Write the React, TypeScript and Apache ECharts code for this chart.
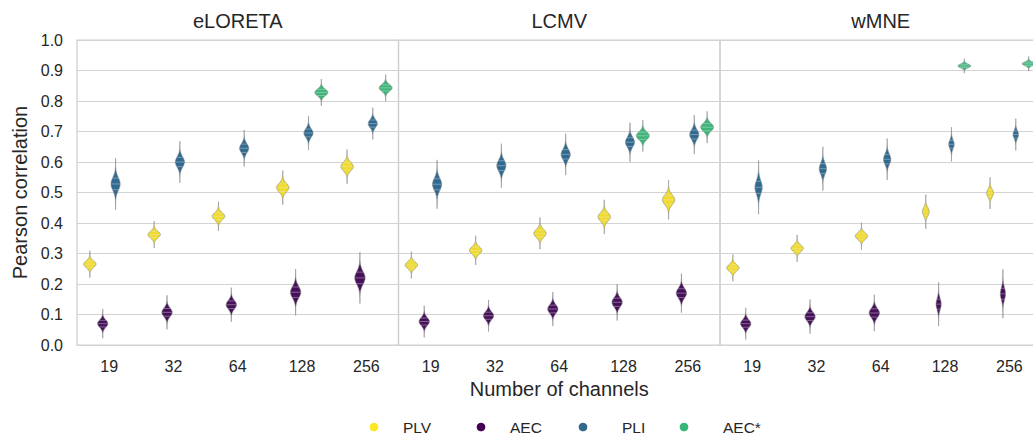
import React, { useEffect, useRef } from 'react';
import * as echarts from 'echarts';

const categories = ['19', '32', '64', '128', '256'];
const panels = ['eLORETA', 'LCMV', 'wMNE'];
const methods = ['PLV', 'AEC', 'PLI', 'AEC*'];

// Each violin: [category index, centre, spread (sd), relative density width]
const eloretaPLV = [[0, 0.265, 0.011, 1], [1, 0.362, 0.011, 1], [2, 0.422, 0.012, 1], [3, 0.516, 0.014, 1], [4, 0.585, 0.014, 1]];
const eloretaAEC = [[0, 0.07, 0.012, 1], [1, 0.107, 0.014, 1], [2, 0.132, 0.014, 1], [3, 0.173, 0.019, 1], [4, 0.22, 0.021, 1]];
const eloretaPLI = [[0, 0.528, 0.021, 1], [1, 0.6, 0.017, 1], [2, 0.645, 0.015, 1], [3, 0.695, 0.014, 1], [4, 0.726, 0.013, 1]];
const eloretaAECstar = [[3, 0.828, 0.011, 1], [4, 0.843, 0.011, 1]];

const lcmvPLV = [[0, 0.262, 0.011, 1], [1, 0.31, 0.012, 1], [2, 0.366, 0.013, 1], [3, 0.42, 0.014, 1], [4, 0.476, 0.016, 1]];
const lcmvAEC = [[0, 0.077, 0.013, 1], [1, 0.096, 0.013, 1], [2, 0.118, 0.014, 1], [3, 0.14, 0.015, 1], [4, 0.17, 0.016, 1]];
const lcmvPLI = [[0, 0.527, 0.02, 1], [1, 0.588, 0.018, 1], [2, 0.625, 0.017, 1], [3, 0.665, 0.016, 1], [4, 0.69, 0.016, 1]];
const lcmvAECstar = [[3, 0.686, 0.013, 1], [4, 0.714, 0.013, 1]];

const wmnePLV = [[0, 0.253, 0.011, 1], [1, 0.317, 0.011, 1], [2, 0.357, 0.011, 1], [3, 0.437, 0.014, 0.55], [4, 0.498, 0.013, 0.55]];
const wmneAEC = [[0, 0.07, 0.013, 1], [1, 0.093, 0.014, 1], [2, 0.105, 0.015, 1], [3, 0.134, 0.018, 0.5], [4, 0.168, 0.02, 0.5]];
const wmnePLI = [[0, 0.517, 0.022, 0.8], [1, 0.578, 0.018, 0.8], [2, 0.609, 0.017, 0.8], [3, 0.658, 0.014, 0.6], [4, 0.69, 0.013, 0.6]];
const wmneAECstar = [[3, 0.915, 0.006, 1], [4, 0.922, 0.006, 1]];

const panelData = [
  [eloretaPLV, eloretaAEC, eloretaPLI, eloretaAECstar],
  [lcmvPLV, lcmvAEC, lcmvPLI, lcmvAECstar],
  [wmnePLV, wmneAEC, wmnePLI, wmneAECstar],
];

const violinColors = ['#f0db2f', '#46115a', '#306a91', '#3db679'];
const legendColors = ['#fde725', '#440154', '#31688e', '#35b779'];
const baseHalf = [6.2, 5.2, 4.6, 6.5];

const FONT = '"Liberation Sans", Arial, sans-serif';
const TXT = '#262626';

const GRID_LEFT = 77;
const GRID_W = 321.5;
const GRID_TOP = 40;
const GRID_H = 305;

function makeRender(mi: number) {
  return (params: any, api: any) => {
    const cat = api.value(0);
    const c = api.value(1);
    const sd = api.value(2);
    const rel = api.value(3);
    const band = api.size([1, 0])[0];
    const cx = api.coord([cat, c])[0] + (mi - 1.5) * 0.2 * band;
    const hw = baseHalf[mi] * rel;
    const left: number[][] = [];
    const right: number[][] = [];
    for (let i = 0; i <= 80; i++) {
      const t = -4 + i * 0.1;
      const y = api.coord([cat, c + t * sd])[1];
      const w = hw * Math.exp((-t * t) / 2);
      left.push([cx - w, y]);
      right.push([cx + w, y]);
    }
    const pts = left.concat(right.reverse());
    const children: any[] = [
      {
        type: 'polygon',
        shape: { points: pts },
        style: { fill: violinColors[mi], stroke: 'rgba(135,135,135,0.75)', lineWidth: 0.8 },
      },
    ];
    [-0.9, 0, 0.9].forEach((k) => {
      const y = api.coord([cat, c + k * sd])[1];
      const w = hw * Math.exp((-k * k) / 2) * 0.9;
      children.push({
        type: 'line',
        shape: { x1: cx - w, y1: y, x2: cx + w, y2: y },
        style: { stroke: 'rgba(235,235,235,0.55)', lineWidth: 0.7 },
      });
    });
    return { type: 'group', children };
  };
}

export default function App() {
  const ref = useRef<HTMLDivElement>(null);
  useEffect(() => {
    if (!ref.current) return;
    const chart = echarts.init(ref.current, undefined, { renderer: 'svg' });
    const grid: any[] = [];
    const xAxis: any[] = [];
    const yAxis: any[] = [];
    const series: any[] = [];
    panels.forEach((p, i) => {
      grid.push({
        left: GRID_LEFT + i * GRID_W,
        top: GRID_TOP,
        width: GRID_W,
        height: GRID_H,
        show: true,
        borderColor: '#cdcdcd',
        borderWidth: 1.2,
      });
      xAxis.push({
        type: 'category',
        gridIndex: i,
        data: categories,
        axisLine: { show: false },
        axisTick: { show: false },
        splitLine: { show: false },
        axisLabel: { fontSize: 16, color: TXT, margin: 13, fontFamily: FONT },
      });
      yAxis.push({
        type: 'value',
        gridIndex: i,
        min: 0,
        max: 1,
        interval: 0.1,
        axisLine: { show: false },
        axisTick: { show: false },
        axisLabel: {
          show: i === 0,
          fontSize: 16,
          color: TXT,
          margin: 14,
          fontFamily: FONT,
          formatter: (v: number) => v.toFixed(1),
        },
        splitLine: { show: true, lineStyle: { color: '#d3d3d3', width: 1.2 } },
      });
      methods.forEach((m, mi) => {
        series.push({
          type: 'custom',
          name: m,
          xAxisIndex: i,
          yAxisIndex: i,
          coordinateSystem: 'cartesian2d',
          encode: { x: 0, y: 1 },
          data: panelData[i][mi],
          renderItem: makeRender(mi),
          silent: true,
        });
      });
    });

    const graphic: any[] = [];
    panels.forEach((p, i) => {
      graphic.push({
        type: 'text',
        x: GRID_LEFT + i * GRID_W + GRID_W / 2,
        y: 21,
        style: { text: p, font: `20px ${FONT}`, fill: TXT, textAlign: 'center', textVerticalAlign: 'middle' },
      });
    });
    graphic.push({
      type: 'text',
      x: GRID_LEFT + 1.5 * GRID_W,
      y: 389,
      style: { text: 'Number of channels', font: `20px ${FONT}`, fill: TXT, textAlign: 'center', textVerticalAlign: 'middle' },
    });
    graphic.push({
      type: 'text',
      x: 20,
      y: GRID_TOP + GRID_H / 2,
      rotation: Math.PI / 2,
      style: { text: 'Pearson correlation', font: `20px ${FONT}`, fill: TXT, textAlign: 'center', textVerticalAlign: 'middle' },
    });
    const markerX = [374, 481, 583, 684];
    const textX = [403, 510, 622, 723];
    methods.forEach((m, mi) => {
      graphic.push({
        type: 'circle',
        shape: { cx: markerX[mi], cy: 427, r: 4.3 },
        style: { fill: legendColors[mi] },
      });
      graphic.push({
        type: 'text',
        x: textX[mi],
        y: 427,
        style: { text: m, font: `15.5px ${FONT}`, fill: TXT, textAlign: 'left', textVerticalAlign: 'middle' },
      });
    });

    chart.setOption({
      animation: false,
      backgroundColor: '#ffffff',
      textStyle: { fontFamily: FONT },
      grid,
      xAxis,
      yAxis,
      series,
      graphic,
    });
    return () => chart.dispose();
  }, []);
  return (
    <div style={{ position: 'fixed', left: 0, top: 0, width: 1033, height: 438, overflow: 'hidden', background: '#fff' }}>
      <div ref={ref} style={{ width: 1045, height: 438 }} />
    </div>
  );
}
